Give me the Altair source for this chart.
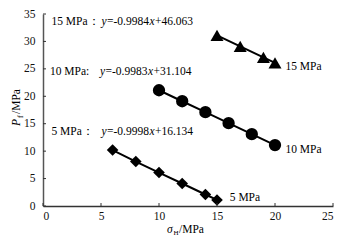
import altair as alt
import pandas as pd

# ---- data ----
series_names = ["5 MPa", "10 MPa", "15 MPa"]
x5 = [6, 8, 10, 12, 14, 15]
y5 = [10.2, 8.1, 6.1, 4.1, 2.1, 1.1]
x10 = [10, 12, 14, 16, 18, 20]
y10 = [21.1, 19.1, 17.1, 15.1, 13.1, 11.1]
x15 = [15, 17, 19, 20]
y15 = [31.1, 29.1, 27.1, 26.1]

x_ticks = [0, 5, 10, 15, 20, 25]
y_ticks = [0, 5, 10, 15, 20, 25, 30, 35]

end_labels = ["5 MPa", "10 MPa", "15 MPa"]
end_x = [16.1, 20.9, 20.9]
end_y = [1.5, 10.15, 25.4]

eq_prefix = ["5 MPa：", "10 MPa:", "15 MPa："]
eq_coef = ["=-0.9998", "=-0.9983", "=-0.9984"]
eq_int = ["+16.134", "+31.104", "+46.063"]
eq_x = [0.73, 0.6, 0.73]
eq_y = [13.5, 24.4, 33.6]

FONT = "Liberation Serif, Times New Roman, Times, serif"
FS = 11.5

rows = []
for name, xs, ys in zip(series_names, [x5, x10, x15], [y5, y10, y15]):
    for a, b in zip(xs, ys):
        rows.append({"series": name, "x": a, "y": b})
pts = pd.DataFrame(rows)

xs_scale = alt.Scale(domain=[0, 25], nice=False, zero=False)
ys_scale = alt.Scale(domain=[0, 35], nice=False, zero=False)

x_enc = alt.X("x:Q", scale=xs_scale, axis=alt.Axis(
    values=x_ticks, tickSize=0, grid=False, title=None, labelPadding=4,
    labelFont=FONT, labelFontSize=FS, labelColor="#111",
    domainColor="#333", domainWidth=1.5))
y_enc = alt.Y("y:Q", scale=ys_scale, axis=alt.Axis(
    values=y_ticks, tickSize=0, grid=False, title=None, labelPadding=8,
    labelFont=FONT, labelFontSize=FS, labelColor="#111",
    domainColor="#555", domainWidth=1.5))

lines = alt.Chart(pts).mark_line(color="black", strokeWidth=2).encode(
    x=x_enc, y=y_enc, detail="series:N")

points = alt.Chart(pts).mark_point(filled=True, opacity=1, color="black").encode(
    x=x_enc, y=y_enc,
    shape=alt.Shape("series:N", scale=alt.Scale(domain=series_names,
                    range=["diamond", "circle", "triangle-up"]), legend=None),
    size=alt.Size("series:N", scale=alt.Scale(domain=series_names,
                  range=[135, 169, 230]), legend=None))

xt = alt.Chart(pd.DataFrame({"x": x_ticks})).mark_rule(color="#333", strokeWidth=1).encode(
    x=x_enc, y=alt.value(192), y2=alt.value(189))
yt = alt.Chart(pd.DataFrame({"y": y_ticks})).mark_rule(color="#333", strokeWidth=1).encode(
    y=y_enc, x=alt.value(0), x2=alt.value(3))

endlab = alt.Chart(pd.DataFrame({"x": end_x, "y": end_y, "t": end_labels})).mark_text(
    align="left", baseline="middle", font=FONT, fontSize=FS, color="black").encode(
    x=x_enc, y=y_enc, text="t:N")

eqdf = pd.DataFrame({"x": eq_x, "y": eq_y, "p": eq_prefix, "c": eq_coef, "i": eq_int,
                     "vy": ["y"] * 3, "vx": ["x"] * 3})

def eqpiece(field, dx, italic=False):
    kw = dict(align="left", baseline="middle", font=FONT, fontSize=FS, color="black", dx=dx)
    if italic:
        kw["fontStyle"] = "italic"
    return alt.Chart(eqdf).mark_text(**kw).encode(x=x_enc, y=y_enc, text=f"{field}:N")

eqs = [eqpiece("p", 0), eqpiece("vy", 50, True), eqpiece("c", 55.5),
       eqpiece("vx", 98, True), eqpiece("i", 103.5)]

one = pd.DataFrame({"k": [0]})

def ptext(txt, x, y, size=FS, italic=False, angle=0):
    kw = dict(align="left", baseline="alphabetic", font=FONT, fontSize=size,
              color="black", text=txt)
    if italic:
        kw["fontStyle"] = "italic"
    if angle:
        kw["angle"] = angle
    return alt.Chart(one).mark_text(**kw).encode(x=alt.value(x), y=alt.value(y))

titles = [
    ptext("σ", 124, 219, italic=True),
    ptext("H", 130.5, 221, size=7),
    ptext("/MPa", 136, 219),
    ptext("P", -23, 112, italic=True, angle=270),
    ptext("f", -20.5, 104, size=8, angle=270),
    ptext("/MPa", -23, 100, angle=270),
]

chart = alt.layer(lines, points, xt, yt, endlab, *eqs, *titles).properties(
    width=290, height=192,
    autosize=alt.AutoSizeParams(type="none"),
    padding={"left": 43, "top": 14, "right": 15, "bottom": 37},
    background="white",
).configure_view(stroke=None)

chart.save("out.html", embed_options={"renderer": "svg", "actions": False})
